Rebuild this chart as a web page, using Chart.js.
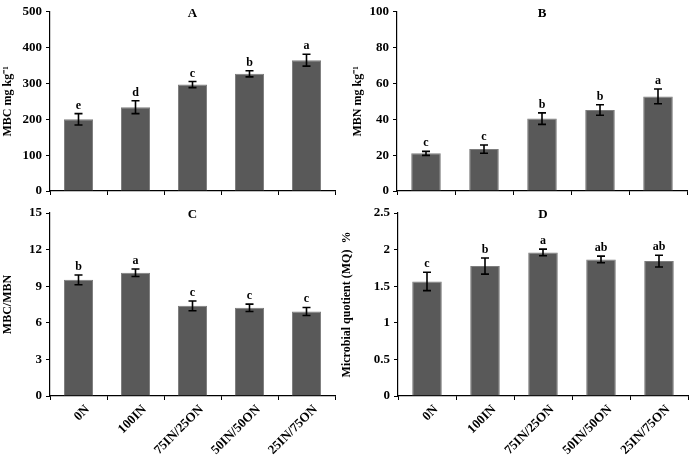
<!DOCTYPE html>
<html>
<head>
<meta charset="utf-8">
<script src="https://cdn.jsdelivr.net/npm/chart.js@4/dist/chart.umd.min.js"></script>
<style>
  html, body { margin: 0; padding: 0; background: #ffffff; }
  #wrap { position: relative; width: 691px; height: 456px; background: #ffffff; }
  #wrap canvas { position: absolute; left: 0; top: 0; }
</style>
</head>
<body>
<div id="wrap">
  <canvas id="cA" width="691" height="456"></canvas>
  <canvas id="cB" width="691" height="456"></canvas>
  <canvas id="cC" width="691" height="456"></canvas>
  <canvas id="cD" width="691" height="456"></canvas>
</div>
<script>
// ---- data ----
const categories = ['0N', '100IN', '75IN/25ON', '50IN/50ON', '25IN/75ON'];

const mbc = [200, 234, 297, 327, 365];
const mbcErr = [16, 18, 8.5, 8.5, 16.5];
const mbcLetters = ['e', 'd', 'c', 'b', 'a'];
const yTicksA = [0, 100, 200, 300, 400, 500];

const mbn = [21, 23.4, 40.4, 45.2, 52.8];
const mbnErr = [1.1, 2.3, 3.2, 2.9, 4.1];
const mbnLetters = ['c', 'c', 'b', 'b', 'a'];
const yTicksB = [0, 20, 40, 60, 80, 100];

const ratio = [9.52, 10.1, 7.39, 7.23, 6.93];
const ratioErr = [0.4, 0.31, 0.4, 0.3, 0.33];
const ratioLetters = ['b', 'a', 'c', 'c', 'c'];
const yTicksC = [0, 3, 6, 9, 12, 15];

const mq = [1.565, 1.775, 1.962, 1.866, 1.843];
const mqErr = [0.125, 0.11, 0.045, 0.045, 0.08];
const mqLetters = ['c', 'b', 'a', 'ab', 'ab'];
const yTicksD = [0, 0.5, 1, 1.5, 2, 2.5];

// ---- styling ----
const FONT = "'Liberation Serif', 'Times New Roman', serif";
const BAR = '#595959';
const BAR_EDGE = '#7d7d7d';

const annotPlugin = {
  id: 'annot',
  afterDatasetsDraw(chart, args, opts) {
    const ctx = chart.ctx;
    const meta = chart.getDatasetMeta(0);
    const ys = chart.scales.y;
    const ca = chart.chartArea;
    ctx.save();
    ctx.strokeStyle = '#000';
    ctx.lineWidth = 1.6;
    ctx.fillStyle = '#000';
    ctx.font = 'bold 12px ' + FONT;
    ctx.textAlign = 'center';
    ctx.textBaseline = 'alphabetic';
    meta.data.forEach((bar, i) => {
      const v = opts.values[i], e = opts.errors[i];
      const yT = ys.getPixelForValue(v + e);
      const yB = ys.getPixelForValue(v - e);
      const x = bar.x;
      ctx.beginPath();
      ctx.moveTo(x, yT); ctx.lineTo(x, yB);
      ctx.moveTo(x - 4, yT); ctx.lineTo(x + 4, yT);
      ctx.moveTo(x - 4, yB); ctx.lineTo(x + 4, yB);
      ctx.stroke();
      ctx.fillText(opts.letters[i], x, yT - 5);
    });
    ctx.font = 'bold 13px ' + FONT;
    ctx.fillText(opts.title, (ca.left + ca.right) / 2, ca.top + 5);
    ctx.restore();
  }
};

function makePanel(id, p) {
  const area = p.area;
  new Chart(document.getElementById(id), {
    type: 'bar',
    data: {
      labels: categories,
      datasets: [{
        data: p.values,
        backgroundColor: BAR,
        borderColor: BAR_EDGE,
        borderWidth: 1,
        categoryPercentage: 1,
        barPercentage: 0.51
      }]
    },
    options: {
      responsive: false,
      animation: false,
      devicePixelRatio: 1,
      layout: {
        padding: {
          left: area.left - p.yW,
          right: 691 - area.right,
          top: area.top,
          bottom: 456 - area.bottom - p.xH
        }
      },
      plugins: {
        legend: { display: false },
        tooltip: { enabled: false },
        annot: { values: p.values, errors: p.errors, letters: p.letters, title: p.title }
      },
      scales: {
        x: {
          offset: true,
          grid: { display: true, drawOnChartArea: false, drawTicks: true, tickLength: 4, color: '#000', offset: true },
          border: { display: true, color: '#000', width: 1.2 },
          ticks: {
            display: p.showX,
            autoSkip: false,
            minRotation: 45, maxRotation: 45,
            labelOffset: 9,
            padding: 2,
            color: '#000',
            font: { family: FONT, size: 13, weight: 'bold' }
          },
          afterFit(s) { s.height = p.xH; }
        },
        y: {
          min: p.ticks[0],
          max: p.ticks[p.ticks.length - 1],
          afterBuildTicks(s) { s.ticks = p.ticks.map(v => ({ value: v })); },
          grid: { display: true, drawOnChartArea: false, drawTicks: true, tickLength: 4, color: '#000' },
          border: { display: true, color: '#000', width: 1.2 },
          ticks: {
            padding: 4,
            color: '#000',
            font: { family: FONT, size: 13, weight: 'bold' },
            callback: v => String(v)
          },
          title: {
            display: true,
            text: p.yTitle,
            color: '#000',
            padding: { top: 1, bottom: 0 },
            font: { family: FONT, size: 12, weight: 'bold' }
          },
          afterFit(s) { s.width = p.yW; }
        }
      }
    },
    plugins: [annotPlugin]
  });
}

makePanel('cA', {
  values: mbc, errors: mbcErr, letters: mbcLetters, ticks: yTicksA, title: 'A',
  yTitle: 'MBC mg kg\u207B\u00B9', area: { left: 50, right: 335, top: 8, bottom: 191 }, yW: 50, xH: 8, showX: false
});
makePanel('cB', {
  values: mbn, errors: mbnErr, letters: mbnLetters, ticks: yTicksB, title: 'B',
  yTitle: 'MBN mg kg\u207B\u00B9', area: { left: 397, right: 687, top: 8, bottom: 191 }, yW: 47, xH: 8, showX: false
});
makePanel('cC', {
  values: ratio, errors: ratioErr, letters: ratioLetters, ticks: yTicksC, title: 'C',
  yTitle: 'MBC/MBN', area: { left: 50, right: 335, top: 213, bottom: 396 }, yW: 50, xH: 60, showX: true
});
makePanel('cD', {
  values: mq, errors: mqErr, letters: mqLetters, ticks: yTicksD, title: 'D',
  yTitle: 'Microbial quotient (MQ)  %', area: { left: 398, right: 688, top: 213, bottom: 396 }, yW: 59, xH: 60, showX: true
});
</script>
</body>
</html>
